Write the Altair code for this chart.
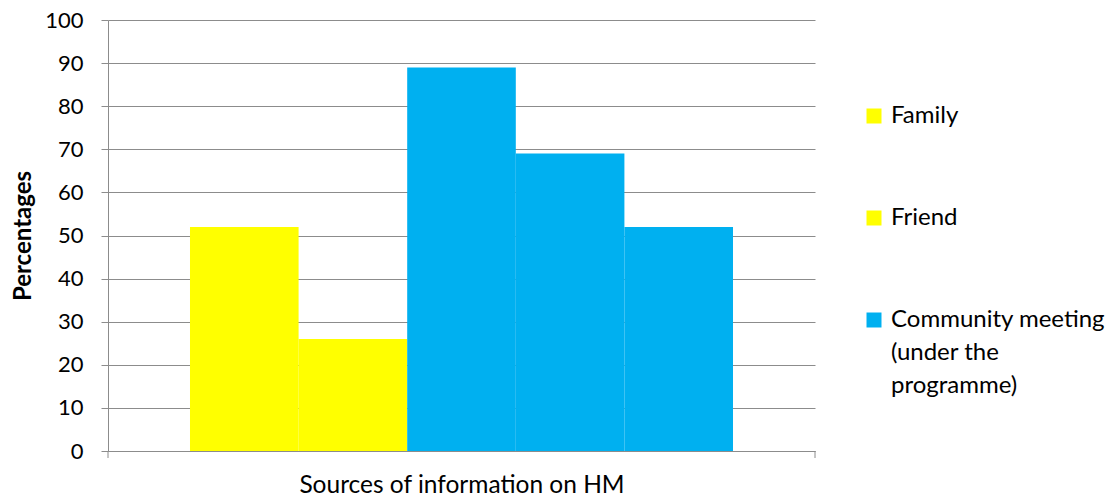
import altair as alt
import pandas as pd

bar_ids = ["b1", "b2", "b3", "b4", "b5"]
sources = ["Family", "Friend",
           "Community meeting (under the programme)",
           "Community meeting (under the programme)",
           "Community meeting (under the programme)"]
values = [52, 26, 89, 69, 52]
category = ["Sources of information on HM"] * 5

legend_domain = ["Family", "Friend", "Community meeting (under the programme)"]
legend_colors = ["#FFFF00", "#FFFF00", "#00B0F0"]

df = pd.DataFrame({"bar": bar_ids, "source": sources, "value": values, "cat": category})

FONT = "Lato"
W, H = 707, 431

bars = alt.Chart(df).mark_bar(strokeWidth=0).encode(
    x=alt.X("cat:N", title="Sources of information on HM",
            scale=alt.Scale(paddingInner=0, paddingOuter=0.151),
            axis=alt.Axis(labels=False, ticks=False, domain=True, domainColor="#8c8c8c",
                          titleFont=FONT, titleFontSize=24.5, titleFontWeight="normal",
                          titleColor="#000000", titlePadding=22)),
    xOffset=alt.XOffset("bar:N", scale=alt.Scale(paddingInner=0, paddingOuter=0)),
    y=alt.Y("value:Q", title="Percentages",
            scale=alt.Scale(domain=[0, 100], nice=False),
            axis=alt.Axis(values=list(range(0, 101, 10)), grid=True, gridColor="#8c8c8c",
                          domainColor="#8c8c8c", tickColor="#8c8c8c", tickSize=7,
                          labelFont=FONT, labelFontSize=22, labelColor="#000000",
                          labelLineHeight=22,
                          labelPadding=18, titleFont=FONT, titleFontSize=24,
                          titleFontWeight="bold", titleColor="#000000", titlePadding=9)),
    color=alt.Color("source:N",
                    scale=alt.Scale(domain=legend_domain, range=legend_colors),
                    legend=alt.Legend(title=None, orient="none", legendX=754, legendY=84,
                                      symbolType="square", symbolSize=225,
                                      symbolStrokeWidth=0, labelFont=FONT,
                                      labelFontSize=24, labelColor="#000000",
                                      labelOffset=5, rowPadding=78, labelLimit=400,
                                      labelExpr="datum.label == 'Community meeting (under the programme)' ? ['Community meeting', '(under the', 'programme)'] : datum.label")),
)

ends = alt.Chart(pd.DataFrame({"p": [0]})).mark_rule(color="#8c8c8c").encode(
    x=alt.value(0), y=alt.value(H), y2=alt.value(H + 7)
)
ends2 = alt.Chart(pd.DataFrame({"p": [0]})).mark_rule(color="#8c8c8c").encode(
    x=alt.value(W), y=alt.value(H), y2=alt.value(H + 7)
)

chart = alt.layer(bars, ends, ends2).properties(
    width=W, height=H,
    autosize=alt.AutoSizeParams(type="none"),
    padding={"left": 100, "top": 12, "right": 292, "bottom": 49},
).configure(
    background="white", style={"guide-label": {"lineHeight": 33}}
).configure_view(stroke=None)

chart.save("out.html", embed_options={"renderer": "svg", "actions": False})
